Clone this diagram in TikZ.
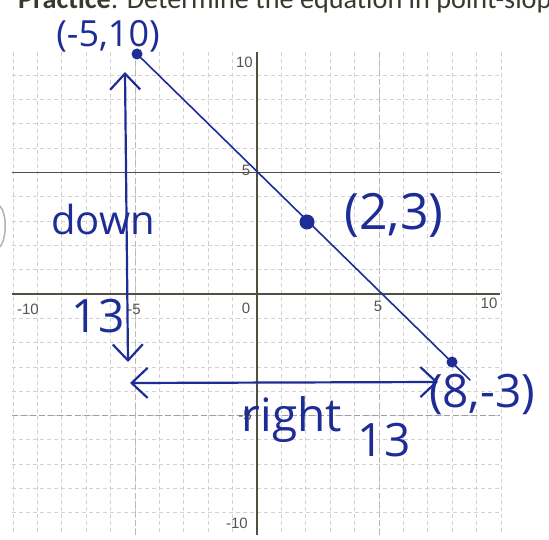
\documentclass[tikz,border=0pt]{standalone}
\usepackage{fontspec}
\setmainfont{Carlito}
\newfontfamily\labelfont{Liberation Sans}
\newfontfamily\handfont{Open Sans}
\usetikzlibrary{arrows.meta}
\definecolor{inkblue}{RGB}{30,45,150}
\definecolor{axisgray}{RGB}{80,80,64}
\definecolor{labelgray}{RGB}{85,85,80}
\definecolor{headgray}{RGB}{55,58,45}
\begin{document}
\begin{tikzpicture}[x=1pt,y=-1pt,
  gridline/.style={draw=gray!35, line width=0.8pt, dash pattern=on 4pt off 3pt},
  midline/.style={draw=gray!55, line width=1pt, dash pattern=on 6pt off 3pt},
  axisline/.style={draw=axisgray, line width=2pt},
  inkline/.style={draw=inkblue, line width=2.2pt, line cap=round},
  hand/.style={text=inkblue, font=\handfont\fontsize{#1}{#1}\selectfont, inner sep=0pt},
  ticklabel/.style={text=labelgray, font=\labelfont\fontsize{15}{15}\selectfont, inner sep=0pt},
  inkdot/.style={circle, fill=inkblue, inner sep=0pt, minimum size=#1},
  barb/.tip={Straight Barb[length=16pt,width=30pt,line width=2.2pt]}]
\useasboundingbox (0,0) rectangle (549,540);
\fill[white] (0,0) rectangle (549,540);
% heading (cut off at the top and right)
\node[anchor=base west, inner sep=0pt, text=headgray, font=\fontsize{28.2}{28.2}\selectfont] (head) at (18,9) {\textbf{Practice}: Determine the equation in point-slope};
% grid
\foreach \k in {-10,...,-1,1,2,...,10}{
  \draw[gridline] ({257+24.4*\k},52) -- ({257+24.4*\k},535);
}
\foreach \k in {-9,...,-1,1,2,...,9}{
  \draw[gridline] (12,{294+24.3*\k}) -- (500,{294+24.3*\k});
}
\draw[midline] (135,52) -- (135,535);
\draw[midline] (379,52) -- (379,535);
\draw[midline, draw=gray!75] (12,415.5) -- (500,415.5);
\draw[axisline, line width=1.6pt] (12,172.5) -- (500,172.5);
% axes
\draw[axisline] (12,294) -- (500,294);
\draw[axisline, line width=2.4pt] (257,52) -- (257,535);
% tick labels
\node[ticklabel, anchor=east] (y10) at (253,62) {10};
\node[ticklabel] (y5) at (246,170) {5};
\node[ticklabel] (ym5) at (245,415) {-5};
\node[ticklabel] (ym10) at (237,523) {-10};
\node[ticklabel] (xm10) at (28,309) {-10};
\node[ticklabel] (xm5) at (134,309) {-5};
\node[ticklabel] (x0) at (246,308) {0};
\node[ticklabel] (x5) at (378,306) {5};
\node[ticklabel] (x10) at (489,303) {10};
% hole punch shadow
\draw[gray!60, line width=1.5pt] (0,206) .. controls (7,214) and (7,238) .. (0,247);
% line through the points
\coordinate (P1) at (137,54);
\coordinate (P2) at (307,222);
\coordinate (P3) at (452,362);
\coordinate (Lend) at (470,380);
\draw[inkline, line width=1.6pt] (P1) -- (Lend);
\node[inkdot=11pt] (D1) at (P1) {};
\node[inkdot=15pt] (D2) at (P2) {};
\node[inkdot=11pt] (D3) at (P3) {};
% arrows
\coordinate (Vtop) at (125,72);
\coordinate (Vbot) at (128,362);
\draw[inkline, {barb}-{barb}] (Vtop) -- (Vbot);
\coordinate (Hleft) at (130,383);
\coordinate (Hright) at (438,382);
\draw[inkline, {barb}-{barb}] (Hleft) -- (Hright);
% handwritten labels
\node[hand=36] (t1) at (108,36) {(-5,10)};
\node[hand=40] (t2) at (103,220) {down};
\node[hand=46] (t3) at (98,316) {13};
\node[hand=50] (t4) at (394,215) {(2,3)};
\node[hand=46] (t5) at (292,420) {right};
\node[hand=46] (t6) at (384,440) {13};
\node[hand=46] (t7) at (482,394) {(8,-3)};
\end{tikzpicture}
\end{document}
